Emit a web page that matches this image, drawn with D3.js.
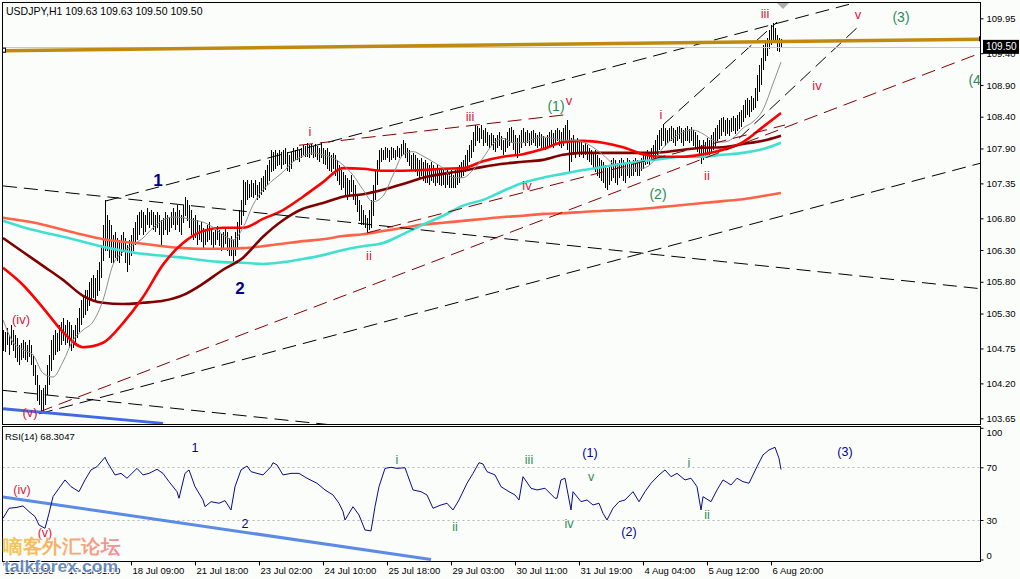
<!DOCTYPE html>
<html><head><meta charset="utf-8">
<script src="https://cdn.jsdelivr.net/npm/d3@7"></script>
<style>
body{margin:0;background:#fff}
svg{display:block}
text{font-family:"Liberation Sans",Arial,sans-serif}
</style>
</head><body>
<svg id="c" width="1020" height="579"></svg>
<script>
// ---------------- DATA ----------------
const symbolTitle = "USDJPY,H1";
const headerOHLC = [109.63, 109.63, 109.50, 109.50];
const lastPrice = 109.50;
const rsiTitle = "RSI(14) 68.3047";

const highs = [
105.04,105.01,105.07,104.96,105.12,105.04,104.96,104.92,104.81,104.84,
104.88,104.85,104.81,104.88,104.81,104.65,104.49,104.33,104.18,104.09,
104.13,104.18,104.49,104.65,104.88,104.96,105.04,105.00,105.12,105.17,
105.23,105.12,105.20,105.17,105.12,105.04,105.12,105.23,105.39,105.51,
105.59,105.67,105.67,105.80,105.86,105.91,105.86,105.99,106.11,106.38,
106.70,107.09,106.85,106.77,106.70,106.54,106.59,106.49,106.46,106.54,
106.59,106.49,106.38,106.46,106.54,106.65,106.74,106.85,106.90,106.93,
106.90,106.85,106.96,106.90,106.93,106.90,106.85,106.90,106.85,106.77,
106.81,106.90,106.85,106.81,106.90,106.96,106.90,107.01,106.93,106.85,
107.01,107.14,107.09,107.01,106.93,106.81,106.85,106.77,106.70,106.74,
106.65,106.62,106.70,106.74,106.65,106.59,106.62,106.68,106.62,106.55,
106.59,106.65,106.59,106.49,106.52,106.46,106.59,106.74,106.93,107.09,
107.40,107.37,107.40,107.34,107.40,107.36,107.40,107.33,107.37,107.44,
107.47,107.56,107.64,107.72,107.88,107.85,107.88,107.83,107.88,107.85,
107.88,107.91,107.85,107.80,107.85,107.91,107.88,107.92,107.88,107.91,
107.95,107.94,107.99,107.95,107.97,107.94,107.97,107.94,107.91,107.99,
107.91,107.88,107.91,107.85,107.80,107.83,107.80,107.72,107.64,107.56,
107.53,107.48,107.44,107.40,107.48,107.40,107.33,107.17,107.09,107.01,
106.93,106.85,106.81,106.93,107.09,107.33,107.56,107.72,107.88,107.91,
107.88,107.92,107.91,107.88,107.92,107.91,107.88,107.94,107.91,107.97,
108.03,107.99,107.91,107.88,107.80,107.83,107.80,107.75,107.72,107.75,
107.69,107.72,107.67,107.64,107.69,107.64,107.59,107.64,107.59,107.56,
107.59,107.53,107.56,107.53,107.56,107.48,107.56,107.59,107.64,107.69,
107.72,107.80,107.88,107.95,108.03,108.16,108.27,108.25,108.22,108.27,
108.19,108.22,108.16,108.11,108.14,108.11,108.06,108.11,108.16,108.10,
108.03,108.06,108.16,108.22,108.24,108.19,108.11,108.06,108.11,108.19,
108.22,108.16,108.19,108.14,108.17,108.19,108.14,108.11,108.16,108.13,
108.10,108.06,108.11,108.16,108.19,108.14,108.19,108.22,108.19,108.16,
108.22,108.27,108.35,108.19,108.06,108.11,108.03,108.06,108.00,108.03,
107.95,107.99,107.95,107.91,107.88,107.85,107.88,107.80,107.75,107.72,
107.69,107.64,107.59,107.64,107.72,107.75,107.72,107.67,107.72,107.75,
107.72,107.69,107.75,107.72,107.69,107.72,107.75,107.72,107.69,107.75,
107.80,107.85,107.88,107.85,107.91,107.95,108.03,108.11,108.19,108.22,
108.29,108.22,108.19,108.22,108.25,108.22,108.19,108.24,108.25,108.22,
108.19,108.22,108.25,108.21,108.24,108.19,108.16,108.11,108.03,107.95,
108.03,108.00,108.06,108.03,108.11,108.16,108.22,108.27,108.35,108.38,
108.40,108.35,108.38,108.35,108.38,108.41,108.38,108.43,108.48,108.51,
108.58,108.66,108.70,108.66,108.73,108.70,108.85,109.06,109.21,109.33,
109.53,109.61,109.64,109.77,109.85,109.88,109.80,109.69,109.64,109.63];

const lows = [
104.72,104.70,104.81,104.65,104.81,104.72,104.60,104.54,104.49,104.57,
104.60,104.57,104.54,104.62,104.49,104.33,104.18,103.93,103.86,103.73,
103.78,103.86,104.02,104.18,104.41,104.57,104.65,104.70,104.72,104.81,
104.88,104.81,104.85,104.76,104.72,104.76,104.81,104.92,105.01,105.12,
105.23,105.28,105.35,105.43,105.51,105.55,105.51,105.59,105.67,105.86,
106.14,106.30,106.30,106.18,106.11,106.11,106.18,106.14,106.11,106.22,
106.30,106.11,105.96,106.07,106.22,106.30,106.38,106.46,106.54,106.65,
106.54,106.59,106.70,106.65,106.70,106.62,106.59,106.65,106.54,106.38,
106.54,106.62,106.54,106.59,106.65,106.70,106.62,106.70,106.59,106.54,
106.74,106.85,106.77,106.65,106.54,106.46,106.49,106.38,106.46,106.43,
106.33,106.38,106.43,106.46,106.38,106.33,106.38,106.46,106.37,106.30,
106.33,106.40,106.30,106.21,106.22,106.11,106.22,106.33,106.46,106.70,
106.85,107.01,107.09,107.12,107.15,107.12,107.17,107.09,107.12,107.18,
107.22,107.25,107.33,107.40,107.53,107.56,107.59,107.63,107.64,107.59,
107.64,107.67,107.56,107.53,107.59,107.69,107.72,107.72,107.69,107.75,
107.80,107.77,107.78,107.75,107.80,107.75,107.78,107.72,107.69,107.75,
107.67,107.64,107.59,107.56,107.53,107.59,107.48,107.40,107.33,107.25,
107.28,107.17,107.09,107.17,107.22,107.09,107.01,106.90,106.77,106.70,
106.70,106.65,106.57,106.62,106.65,106.85,107.09,107.33,107.56,107.69,
107.72,107.72,107.75,107.69,107.72,107.75,107.72,107.78,107.75,107.78,
107.80,107.75,107.69,107.63,107.56,107.59,107.53,107.48,107.44,107.47,
107.40,107.37,107.36,107.33,107.40,107.36,107.31,107.37,107.33,107.31,
107.34,107.28,107.33,107.29,107.28,107.28,107.29,107.33,107.37,107.44,
107.47,107.53,107.59,107.69,107.75,107.85,107.95,108.03,108.00,108.06,
107.95,108.00,107.94,107.91,107.95,107.88,107.85,107.91,107.94,107.88,
107.80,107.85,107.91,107.95,108.00,107.88,107.80,107.75,107.83,107.91,
107.99,107.95,108.00,107.94,107.97,108.00,107.94,107.91,107.95,107.92,
107.88,107.88,107.91,107.94,107.95,107.92,107.99,108.03,107.95,107.91,
107.95,108.03,107.88,107.53,107.69,107.80,107.75,107.83,107.78,107.80,
107.75,107.80,107.72,107.69,107.64,107.59,107.53,107.48,107.44,107.40,
107.36,107.28,107.25,107.33,107.40,107.44,107.37,107.33,107.44,107.47,
107.40,107.37,107.48,107.44,107.47,107.48,107.53,107.47,107.48,107.56,
107.59,107.64,107.67,107.64,107.72,107.75,107.75,107.80,107.88,107.95,
108.03,107.95,108.00,108.03,108.03,107.99,107.95,108.03,108.06,108.00,
107.95,108.03,108.03,107.99,108.03,107.95,107.91,107.85,107.75,107.67,
107.72,107.75,107.80,107.78,107.85,107.88,107.95,108.03,108.06,108.11,
108.16,108.11,108.14,108.11,108.16,108.19,108.14,108.19,108.22,108.25,
108.32,108.38,108.43,108.41,108.48,108.51,108.54,108.66,108.79,108.90,
109.14,109.29,109.37,109.48,109.53,109.61,109.58,109.45,109.42,109.50];

// moving averages read every 10 bars (+ last bar)
const maBars = [...d3.range(0, 390, 10), 389];
const redMA = [106.02,105.75,105.39,105.01,104.77,104.84,105.15,105.56,106.07,106.41,
  106.60,106.65,106.65,106.79,106.93,107.14,107.37,107.59,107.58,107.55,
  107.55,107.56,107.58,107.59,107.70,107.77,107.81,107.89,108.00,108.02,
  107.99,107.92,107.81,107.77,107.77,107.81,107.88,108.00,108.24,108.46];
const maroonMA = [106.49,106.27,106.05,105.83,105.58,105.47,105.45,105.47,105.50,105.59,
  105.77,105.99,106.18,106.51,106.77,106.95,107.04,107.14,107.18,107.25,
  107.34,107.44,107.50,107.55,107.61,107.66,107.69,107.72,107.80,107.83,
  107.83,107.83,107.83,107.84,107.88,107.91,107.92,107.97,108.02,108.10];
const turquoiseMA = [106.76,106.66,106.58,106.51,106.43,106.35,106.29,106.24,106.21,106.18,
  106.14,106.11,106.10,106.08,106.11,106.16,106.22,106.30,106.36,106.41,
  106.55,106.70,106.84,107.00,107.09,107.23,107.36,107.44,107.50,107.56,
  107.61,107.66,107.70,107.74,107.77,107.77,107.80,107.83,107.89,107.99];
const salmonMA = [106.81,106.76,106.70,106.62,106.54,106.47,106.43,106.40,106.36,106.33,
  106.32,106.32,106.33,106.36,106.40,106.44,106.47,106.52,106.55,106.60,
  106.65,106.70,106.73,106.76,106.79,106.82,106.84,106.87,106.88,106.90,
  106.92,106.93,106.95,106.98,107.01,107.04,107.07,107.10,107.15,107.20];
// fast grey average read every 5 bars (+ last bar)
const grayBars = [...d3.range(0, 390, 5), 389];
const grayMA = [105.20,104.85,104.73,104.65,104.36,104.30,104.54,104.88,105.04,105.17,
  105.51,106.07,106.27,106.38,106.49,106.65,106.77,106.82,106.81,106.77,
  106.74,106.66,106.54,106.46,106.65,107.01,107.25,107.40,107.53,107.69,
  107.78,107.83,107.80,107.75,107.64,107.48,107.25,107.06,107.15,107.48,
  107.80,107.85,107.78,107.69,107.59,107.44,107.44,107.56,107.75,107.97,
  108.06,107.99,107.99,108.05,108.08,108.06,108.03,108.03,108.00,107.92,
  107.80,107.66,107.59,107.59,107.59,107.69,107.91,108.06,108.16,108.19,
  108.13,108.03,108.00,108.06,108.22,108.32,108.51,108.92,109.26];

// RSI(14) read from the lower window
const rsiBars = [0,3,7,10,13,16,18,21,23,25,28,31,34,38,41,44,47,51,52,56,
  59,62,67,70,73,77,80,83,87,88,91,93,96,100,101,104,108,111,114,116,
  119,122,124,127,130,134,135,137,140,144,148,152,157,161,165,168,170,171,175,178,
  181,184,186,188,191,194,197,201,202,205,209,212,215,219,222,225,228,232,235,238,
  240,242,246,249,253,256,258,260,264,267,271,276,277,279,281,284,285,289,292,295,
  298,300,302,305,308,311,315,318,321,324,328,331,334,337,341,344,347,349,350,354,
  357,360,364,367,370,373,377,380,383,386,388,389];
const rsiValues = [31.3,38.9,39.6,40.7,36.4,32.6,26.2,23.7,35.1,47.7,54.1,60.4,55.3,51.5,60.4,68.0,70.5,77.6,74.3,64.2,
  65.4,61.7,69.2,64.2,65.4,68.5,65.4,59.1,51.5,46.5,65.4,68.0,55.3,45.2,40.1,43.9,42.7,44.7,37.6,55.3,
  68.0,71.0,66.7,65.4,64.2,70.5,73.5,71.8,64.2,65.4,65.4,61.7,57.9,52.8,49.0,42.7,36.4,30.0,40.1,33.8,
  22.4,21.7,40.1,55.3,69.2,70.0,69.2,69.7,65.4,52.8,51.5,49.0,38.9,41.4,42.7,37.6,45.2,57.9,65.4,73.5,
  72.5,66.7,64.2,55.3,51.5,49.0,45.2,62.9,54.1,52.8,54.1,46.5,46.5,60.4,61.7,37.6,51.5,43.9,45.2,41.4,
  42.7,35.1,30.0,38.9,43.9,45.2,51.5,43.9,51.5,57.9,64.2,68.0,62.9,65.4,60.4,61.7,55.3,37.6,47.7,43.9,
  52.8,60.4,56.6,61.7,59.1,57.9,70.5,79.4,83.2,85.2,76.8,68.3];
const rsiLevels = [70, 30];
const rsiTicks = [100, 70, 30, 0];

const priceTicks = [109.95,109.40,108.90,108.40,107.90,107.35,106.80,106.30,105.80,105.30,104.75,104.20,103.65];
const timeLabels = ["15 Jul 2008","17 Jul 01:00","18 Jul 09:00","21 Jul 18:00","23 Jul 02:00","24 Jul 10:00",
  "25 Jul 18:00","29 Jul 03:00","30 Jul 11:00","31 Jul 19:00","4 Aug 04:00","5 Aug 12:00","6 Aug 20:00"];
const timeBars = [0,32,64,96,128,160,192,224,256,288,320,352,384];

// drawn objects: [bar0, price0, bar1, price1, kind]
const trendLines = [
  [51,107.07,423,110.17,"black"],
  [0,107.31,489,105.69,"black"],
  [0,104.09,163,103.55,"black"],
  [18,103.72,489,107.67,"black"],
  [330,108.27,387,109.89,"black"],
  [368,108.06,427,109.80,"black"],
  [18,103.75,486,109.37,"maroon"],
  [148,107.95,281,108.43,"maroon"],
  [182,106.57,391,108.27,"maroon"]
];
const goldLine = [0,109.44,489,109.62];
const blueMain = [0,103.80,80,103.57];
const blueRsi = [0,47.5,214,0];

// wave labels: [text, bar, value, kind]
const mainLabels = [
  ["(iv)",9,105.20,"red"],["(v)",13.5,103.74,"red"],
  ["1",77.5,107.40,"navyBig"],["2",118.5,105.70,"navyBig"],
  ["i",153.5,108.17,"red"],["ii",183,106.22,"red"],["iii",233.5,108.41,"red"],
  ["iv",262,107.31,"red"],["(1)",276.5,108.57,"green"],["v",283,108.66,"red"],
  ["(2)",327.5,107.18,"green"],["i",329,108.43,"red"],["ii",352,107.47,"red"],
  ["iii",381,110.03,"red"],["iv",407,108.89,"red"],["v",427.5,110.01,"red"],
  ["(3)",449,109.97,"green"],["(4)",487,108.98,"green"]
];
const rsiLabels = [
  ["(iv)",9.5,52.8,"red"],["(v)",21,20,"red"],
  ["1",96,84.4,"navy"],["2",121,27,"navy"],
  ["i",197,75.5,"green"],["ii",226,24.4,"green"],["iii",263,75.5,"green"],
  ["(1)",293.5,80.9,"navy"],["v",294,62.9,"green"],["iv",283,27,"green"],
  ["(2)",313,21.1,"navy"],["i",343,73,"green"],["ii",352,33.8,"green"],["(3)",421,81.4,"navy"]
];
const watermarkCn = "嘀客外汇论坛";
const watermarkEn = "talkforex.com";

// ---------------- DRAW ----------------
const svg = d3.select("#c");
const PL = 2.5, PR = 980.5, MT = 2.5, MB = 424.5, RT = 426.5, RB = 561.5;
const x = d3.scaleLinear().domain([0, 489]).range([3, 981]);
const y = d3.scaleLinear().domain([103.65, 109.95]).range([418.3, 18.3]);
const yr = d3.scaleLinear().domain([0, 100]).range([559.5, 427.8]);
const px = b => Math.round(x(b)) + 0.5;

svg.append("rect").attr("width",1020).attr("height",579).attr("fill","#fbfdfb");
const defs = svg.append("defs");
defs.append("clipPath").attr("id","cm").append("rect").attr("x",PL).attr("y",MT).attr("width",PR-PL).attr("height",MB-MT);
defs.append("clipPath").attr("id","cr").append("rect").attr("x",PL).attr("y",RT).attr("width",PR-PL).attr("height",RB-RT);
const grad = defs.append("linearGradient").attr("id","wmg").attr("x1","0").attr("x2","1").attr("y1","0").attr("y2","0");
grad.append("stop").attr("offset","0").attr("stop-color","#f3c23a");
grad.append("stop").attr("offset","0.5").attr("stop-color","#f5a55a");
grad.append("stop").attr("offset","1").attr("stop-color","#f0808a");

const main = svg.append("g").attr("clip-path","url(#cm)");
const rsiG = svg.append("g").attr("clip-path","url(#cr)");

const lineColors = {black:"#000000", maroon:"#800000"};
const labelColors = {red:"#dc143c", green:"#2e8b57", navy:"#000099", navyBig:"#000080"};

// price bars
main.append("g").selectAll("line").data(highs).join("line")
  .attr("x1",(d,i)=>px(i)).attr("x2",(d,i)=>px(i))
  .attr("y1",d=>y(d)).attr("y2",(d,i)=>y(lows[i])+0.5)
  .attr("stroke","#000").attr("stroke-width",1).attr("shape-rendering","crispEdges");

// averages
const maLine = (bars) => d3.line().x((d,i)=>x(bars[i])).y(d=>y(d)).curve(d3.curveMonotoneX);
[[salmonMA,"#ff6347"],[turquoiseMA,"#40e0d0"],[maroonMA,"#800000"],[redMA,"#ff0000"]].forEach(([arr,c])=>{
  main.append("path").attr("d",maLine(maBars)(arr)).attr("fill","none").attr("stroke",c).attr("stroke-width",2.6);
});
main.append("path").attr("d",maLine(grayBars)(grayMA)).attr("fill","none").attr("stroke","#8c8c8c").attr("stroke-width",1);

// trend lines
trendLines.forEach(([b0,p0,b1,p1,k])=>{
  main.append("line").attr("x1",x(b0)).attr("y1",y(p0)).attr("x2",x(b1)).attr("y2",y(p1))
    .attr("stroke",lineColors[k]).attr("stroke-width",1).attr("stroke-dasharray","14,7");
});
main.append("line").attr("x1",x(blueMain[0])).attr("y1",y(blueMain[1])).attr("x2",x(blueMain[2])).attr("y2",y(blueMain[3]))
  .attr("stroke","#4169e1").attr("stroke-width",3);

// bid line and gold line
main.append("line").attr("x1",PL).attr("x2",PR).attr("y1",Math.round(y(lastPrice))+0.5).attr("y2",Math.round(y(lastPrice))+0.5)
  .attr("stroke","#c8c4d0").attr("stroke-width",1);
main.append("line").attr("x1",x(goldLine[0])).attr("y1",y(goldLine[1])).attr("x2",x(goldLine[2])).attr("y2",y(goldLine[3]))
  .attr("stroke","#bf8a0f").attr("stroke-width",3.6);
[[goldLine[0],goldLine[1]],[goldLine[2],goldLine[3]]].forEach(([b,p])=>{
  main.append("rect").attr("x",x(b)-1.5).attr("y",y(p)-2.5).attr("width",4).attr("height",4)
    .attr("fill","#fff").attr("stroke","#000").attr("stroke-width",1);
});
// small grey marker at top
main.append("path").attr("d",`M${x(390)-6},3 L${x(390)+6},3 L${x(390)},9 Z`).attr("fill","#b0b0b0");

// main labels
mainLabels.forEach(([t,b,v,k])=>{
  main.append("text").attr("x",x(b)).attr("y",y(v)).attr("text-anchor","middle").attr("dominant-baseline","central")
    .attr("font-size", k==="navyBig"?17:(k==="green"?14:13))
    .attr("font-family", k==="navyBig" ? "'DejaVu Sans',sans-serif" : "'Liberation Sans',Arial,sans-serif")
    .attr("font-weight", k==="navyBig"?"bold":"normal")
    .attr("fill",labelColors[k]).text(t);
});

// header
svg.append("text").attr("x",6).attr("y",15).attr("font-size",10.5).attr("fill","#000")
  .text(symbolTitle + "  " + headerOHLC.map(d=>d.toFixed(2)).join(" "));

// RSI window
rsiLevels.forEach(l=>{
  rsiG.append("line").attr("x1",PL).attr("x2",PR).attr("y1",Math.round(yr(l))+0.5).attr("y2",Math.round(yr(l))+0.5)
    .attr("stroke","#b4b4b4").attr("stroke-dasharray","2,3").attr("stroke-width",1);
});
rsiG.append("line").attr("x1",x(blueRsi[0])).attr("y1",yr(blueRsi[1])).attr("x2",x(blueRsi[2])).attr("y2",yr(blueRsi[3]))
  .attr("stroke","#5b8be6").attr("stroke-width",3);
rsiG.append("path").attr("d",d3.line().x((d,i)=>x(rsiBars[i])).y(d=>yr(d))(rsiValues))
  .attr("fill","none").attr("stroke","#0a0a8a").attr("stroke-width",1);
rsiLabels.forEach(([t,b,v,k])=>{
  rsiG.append("text").attr("x",x(b)).attr("y",yr(v)).attr("text-anchor","middle").attr("dominant-baseline","central")
    .attr("font-size",12.5).attr("fill",labelColors[k]).text(t);
});
svg.append("text").attr("x",5).attr("y",440).attr("font-size",9.5).attr("fill","#000").text(rsiTitle);

// frames
svg.append("rect").attr("x",PL).attr("y",MT).attr("width",PR-PL).attr("height",MB-MT).attr("fill","none").attr("stroke","#000");
svg.append("rect").attr("x",PL).attr("y",RT).attr("width",PR-PL).attr("height",RB-RT).attr("fill","none").attr("stroke","#000");

// price axis
const ay = svg.append("g").attr("transform",`translate(${PR},0)`)
  .call(d3.axisRight(y).tickValues(priceTicks).tickFormat(d3.format(".2f")).tickSize(3).tickPadding(3));
ay.select(".domain").remove();
ay.selectAll("text").attr("font-size",9.5).attr("font-family","'Liberation Sans',Arial,sans-serif").attr("fill","#000");
ay.selectAll("line").attr("stroke","#000");
// last price box
svg.append("rect").attr("x",983).attr("y",y(lastPrice)-7).attr("width",36).attr("height",14).attr("fill","#000");
svg.append("text").attr("x",986).attr("y",y(lastPrice)).attr("dominant-baseline","central").attr("font-size",10)
  .attr("fill","#fff").text(lastPrice.toFixed(2));

// rsi axis
const ar = svg.append("g").attr("transform",`translate(${PR},0)`)
  .call(d3.axisRight(yr).tickValues(rsiTicks).tickSize(3).tickPadding(3));
ar.select(".domain").remove();
ar.selectAll("text").attr("font-size",9.5).attr("font-family","'Liberation Sans',Arial,sans-serif").attr("fill","#000")
  .attr("dy",d=> d===100 ? "0.85em" : (d===0 ? "-0.1em" : "0.32em"));
ar.selectAll("line").attr("stroke","#000");

// time axis
const ax = svg.append("g").attr("transform",`translate(0,${RB})`)
  .call(d3.axisBottom(x).tickValues(timeBars).tickFormat((d,i)=>timeLabels[i]).tickSize(4).tickPadding(2));
ax.select(".domain").remove();
ax.selectAll("text").attr("font-size",9.5).attr("font-family","'Liberation Sans',Arial,sans-serif").attr("fill","#000")
  .attr("text-anchor","start").attr("dx","1");
ax.selectAll("line").attr("stroke","#000");

// watermark
const wm = svg.append("g").attr("opacity",0.88);
wm.append("text").attr("x",3).attr("y",553).attr("font-size",19).attr("font-weight","bold")
  .attr("font-family","'Noto Sans CJK SC',sans-serif").attr("fill","url(#wmg)")
  .attr("stroke","#fff").attr("stroke-width",0.6).attr("paint-order","stroke")
  .attr("textLength",117).attr("lengthAdjust","spacingAndGlyphs").text(watermarkCn);
wm.append("text").attr("x",4).attr("y",572).attr("font-size",17).attr("font-weight","bold")
  .attr("font-family","'Liberation Sans',Arial,sans-serif").attr("fill","#5a7fb5")
  .attr("stroke","#ffffff").attr("stroke-width",2).attr("paint-order","stroke")
  .attr("textLength",114).attr("lengthAdjust","spacingAndGlyphs").text(watermarkEn);
</script>
</body></html>
